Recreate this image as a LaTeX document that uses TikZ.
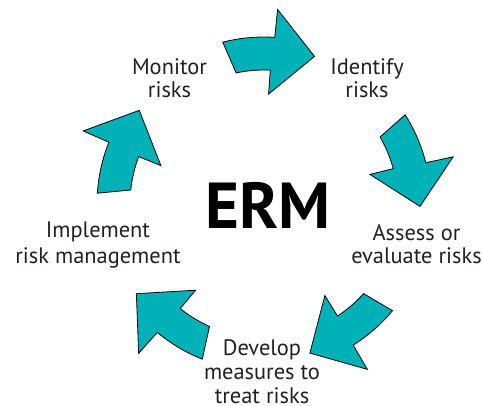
\documentclass[tikz,border=0pt]{standalone}
\usepackage{fontspec}
\setmainfont{PT Sans}
\definecolor{tealfill}{RGB}{0,178,183}
\definecolor{txt}{RGB}{35,31,32}
\begin{document}
\begin{tikzpicture}[x=1pt,y=1pt,
  cyclearrow/.style={fill=tealfill, draw=black, line width=0.8pt, line join=miter},
  lbl/.style={text=txt, align=center, anchor=base, inner sep=0pt},
  lblfont/.style={font=\fontsize{22.4}{#1}\selectfont}]
\useasboundingbox (0,0) rectangle (482,406);
\coordinate (C) at (264,202);
\foreach \b in {86.8,14.8,-57.2,-129.2,-201.2}{
  \draw[cyclearrow, shift={(C)}]
    ({\b+17.5}:167pt) arc[start angle={\b+17.5}, end angle={\b-0.5}, radius=167pt]
    -- ({\b-0.8}:195pt) -- ({\b-15.7}:156pt) -- ({\b+0.8}:110pt) -- ({\b+0.5}:134pt)
    arc[start angle={\b+0.5}, end angle={\b+15.2}, radius=134pt] -- cycle;
}
\node[anchor=base, inner sep=0pt, font=\fontsize{65}{70}\selectfont\bfseries] (erm) at (268,177.7) {ERM};
\node[lbl, lblfont=23.4] (monitor) at (169.5,308.3) {Monitor\\risks};
\node[lbl, lblfont=23.4] (identify) at (367,308.3) {Identify\\risks};
\node[lbl, lblfont=22.7] (assess) at (416.5,142.7) {Assess or\\evaluate risks};
\node[lbl, lblfont=24] (develop) at (262,2.7) {Develop\\measures to\\treat risks};
\node[lbl, lblfont=26] (implement) at (98,142.7) {Implement\\risk management};
\end{tikzpicture}
\end{document}
